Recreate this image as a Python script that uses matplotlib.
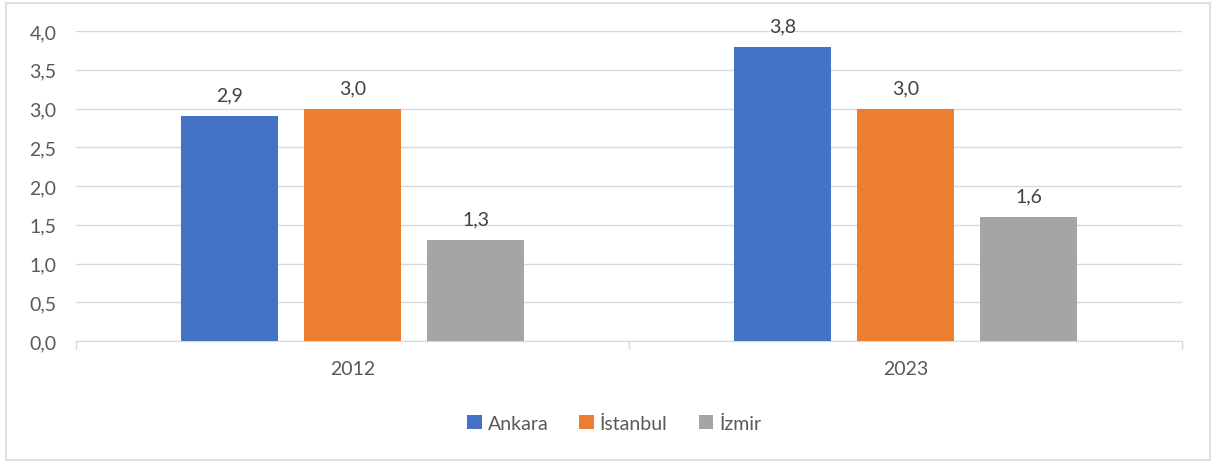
import numpy as np
import matplotlib.pyplot as plt
from matplotlib.patches import Rectangle

years = ['2012', '2023']
cities = ['Ankara', 'İstanbul', 'İzmir']
ankara = [2.9, 3.8]
istanbul = [3.0, 3.0]
izmir = [1.3, 1.6]
colors = ['#4472C4', '#ED7D31', '#A5A5A5']

plt.rcParams['font.family'] = ['Lato', 'DejaVu Sans']
txt = '#595959'
fs = 14

fig = plt.figure(figsize=(12.16, 4.64), dpi=100)
ax = fig.add_axes([76/1216, 1-342/464, (1182-76)/1216, (342-32)/464])

# outer chart border
fig.patches.append(Rectangle((6/1216, 3/464), 1204/1216, 457/464, transform=fig.transFigure,
                             fill=False, edgecolor='#D9D9D9', linewidth=1.2))

x = np.arange(len(years))
w = 0.175
step = 0.2225
for i, (vals, name) in enumerate(zip([ankara, istanbul, izmir], cities)):
    bars = ax.bar(x + (i - 1) * step, vals, w, color=colors[i], label=name, zorder=3)
    for b, v in zip(bars, vals):
        ax.text(b.get_x() + b.get_width() / 2, v + 0.16, f'{v:.1f}'.replace('.', ','),
                ha='center', va='bottom', fontsize=fs, color='#404040')

ax.set_xlim(-0.5, 1.5)
ax.set_ylim(0, 4.0)
ax.set_yticks(np.arange(0, 4.01, 0.5))
ax.set_yticklabels([f'{t:.1f}'.replace('.', ',') for t in np.arange(0, 4.01, 0.5)])
ax.set_xticks(x)
ax.set_xticklabels(years)
ax.set_xticks([-0.5, 0.5, 1.5], minor=True)
ax.tick_params(axis='x', which='major', length=0, pad=14, labelsize=fs, colors=txt)
ax.tick_params(axis='x', which='minor', length=6, color='#D9D9D9', width=1)
ax.tick_params(axis='y', length=0, pad=14, labelsize=fs, colors=txt)
ax.grid(axis='y', color='#D9D9D9', linewidth=1, zorder=0)
for s in ['top', 'right', 'left']:
    ax.spines[s].set_visible(False)
ax.spines['bottom'].set_color('#D9D9D9')

fig.legend(loc='center', bbox_to_anchor=(0.505, 1-424/464), ncol=3, frameon=False,
           fontsize=fs, labelcolor=txt, handlelength=0.75, handleheight=0.75,
           handletextpad=0.3, columnspacing=1.6)

fig.savefig('out.png', dpi=100)
